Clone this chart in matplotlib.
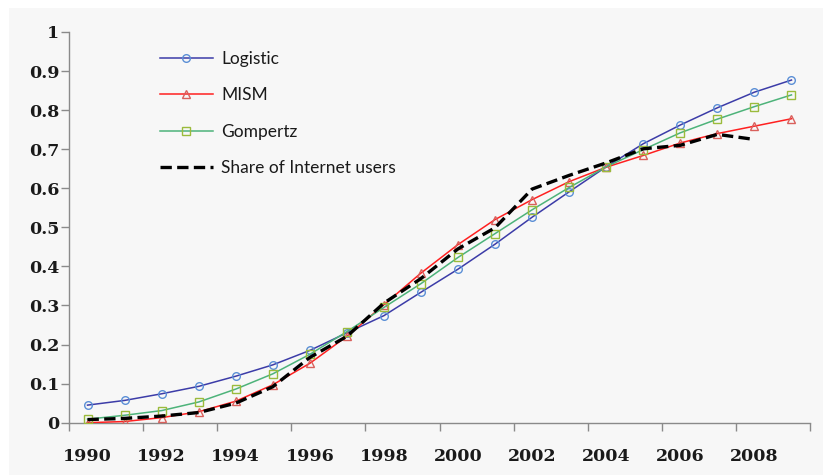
import matplotlib
matplotlib.use("Agg")
import matplotlib.pyplot as plt
from matplotlib.patches import Rectangle

years = list(range(1990, 2010))
tick_labels = [str(y) for y in range(1990, 2010, 2)]

logistic = [0.045, 0.057, 0.074, 0.093, 0.119, 0.148, 0.185, 0.230, 0.274, 0.334,
            0.393, 0.457, 0.526, 0.591, 0.655, 0.714, 0.762, 0.806, 0.846, 0.877]
mism = [0.000, 0.003, 0.013, 0.028, 0.055, 0.097, 0.152, 0.221, 0.302, 0.383,
        0.456, 0.520, 0.571, 0.617, 0.654, 0.684, 0.716, 0.740, 0.759, 0.778]
gompertz = [0.009, 0.019, 0.031, 0.053, 0.086, 0.125, 0.175, 0.233, 0.295, 0.356,
            0.423, 0.484, 0.545, 0.602, 0.655, 0.699, 0.742, 0.777, 0.809, 0.839]
share = [0.008, 0.011, 0.017, 0.026, 0.050, 0.092, 0.167, 0.221, 0.306, 0.369,
         0.445, 0.499, 0.598, 0.633, 0.665, 0.701, 0.710, 0.738, 0.725]

W, H = 823, 475
fig = plt.figure(figsize=(W / 100, H / 100), dpi=100)
fig.patch.set_facecolor("white")
bg = "#f7f7f7"
bgax = fig.add_axes([0, 0, 1, 1], zorder=-10)
bgax.set_axis_off()
bgax.add_patch(Rectangle((9 / W, 0), 1 - 9 / W, 1 - 8 / H, transform=bgax.transAxes,
                         facecolor=bg, edgecolor="none"))

ax = fig.add_axes([69 / W, 1 - 422.7 / H, (810 - 69) / W, (422.7 - 32) / H], zorder=1)
ax.set_facecolor("none")

x = list(range(len(years)))
xs = list(range(len(share)))

ax.plot(x, logistic, color="#3c3ca8", lw=1.1, marker="o", ms=5.5, mfc="none",
        mec="#5b8fd6", mew=1.0, label="Logistic", zorder=3)
ax.plot(x, mism, color="#ff2020", lw=1.1, marker="^", ms=5.5, mfc="none",
        mec="#d9605c", mew=1.0, label="MISM", zorder=3)
ax.plot(x, gompertz, color="#4db37a", lw=1.1, marker="s", ms=5.5, mfc="none",
        mec="#9bbb3c", mew=1.0, label="Gompertz", zorder=3)
ax.plot(xs, share, color="black", lw=2.4, ls=(0, (3.4, 1.6)),
        label="Share of Internet users", zorder=4)

ax.set_xlim(-0.5, len(years) - 0.5)
ax.set_ylim(0, 1)

axis_col = "#8a8a8a"
for s in ["top", "right"]:
    ax.spines[s].set_visible(False)
for s in ["left", "bottom"]:
    ax.spines[s].set_color(axis_col)
    ax.spines[s].set_linewidth(1.0)

yt = [i / 10 for i in range(11)]
ax.set_yticks(yt)
ax.set_yticklabels(["0"] + ["0.%d" % i for i in range(1, 10)] + ["1"])
ax.tick_params(axis="y", direction="out", length=5.5, width=1.0, color=axis_col, pad=1.5)

ax.set_xticks([i - 0.5 for i in range(0, len(years) + 1, 2)])
ax.set_xticklabels([])
ax.tick_params(axis="x", which="major", direction="out", length=5.5, width=1.0, color=axis_col)
ax.set_xticks(list(range(0, len(years), 2)), minor=True)
ax.set_xticklabels(tick_labels, minor=True)
ax.tick_params(axis="x", which="minor", length=0, pad=18)

for lab in ax.get_yticklabels() + ax.get_xticklabels(minor=True):
    lab.set_fontfamily("DejaVu Serif")
    lab.set_fontweight("bold")
    lab.set_fontsize(12.5)
    lab.set_color("#1a1a1a")

leg = ax.legend(loc="upper left", bbox_to_anchor=(160 / W, 1 - 51 / H),
                bbox_transform=fig.transFigure, frameon=False, numpoints=1,
                handlelength=3.05, handletextpad=0.46, labelspacing=1.18,
                borderpad=0, borderaxespad=0,
                prop={"family": "Lato", "size": 12.5})
for t in leg.get_texts():
    t.set_color("#1a1a1a")

fig.savefig("out.png", dpi=100, facecolor=fig.get_facecolor())
